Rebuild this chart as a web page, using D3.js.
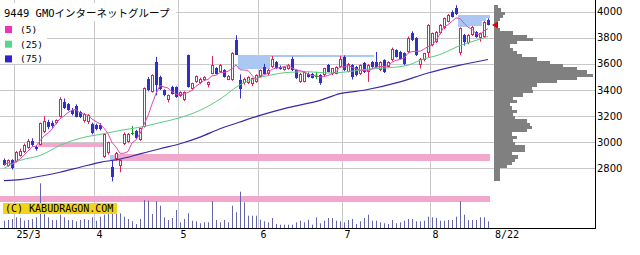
<!DOCTYPE html>
<html>
<head>
<meta charset="utf-8">
<script src="https://cdn.jsdelivr.net/npm/d3@7"></script>
<style>
body { margin: 0; background: #fff; }
</style>
</head>
<body>
<svg id="chart" width="640" height="255"></svg>
<script>
// ---- data ----
const title = '9449 GMOインターネットグループ';
const maLabels = ['(5)', '(25)', '(75)'];
const monthLabels = ['25/3', '4', '5', '6', '7', '8'];
const monthStart = [3, 23, 44, 64, 85, 107];   // index of first session in month
const lastLabel = '8/22';
const priceTicks = [2800, 3000, 3200, 3400, 3600, 3800, 4000];

const opens = [2866,2817,2860,2852,2898,2925,2955,3010,2965,2980, 3077,3155,3150,3145,3193,3310,3290,3250,3280,3230,
  3165,3158,3140,3135,3135,2890,2920,2810,2875,2815, 2985,3000,3070,3088,3018,3120,3488,3388,3612,3500,
  3398,3322,3422,3420,3354,3322,3665,3405,3462,3450, 3475,3440,3526,3565,3540,3552,3480,3475,3782,3480,
  3450,3450,3445,3460,3500,3577,3520,3577,3615,3580, 3552,3560,3640,3550,3462,3462,3525,3525,3505,3515,
  3513,3590,3520,3526,3577,3654,3540,3590,3577,3520, 3608,3538,3615,3615,3552,3628,3577,3628,3705,3692,
  3680,3692,3834,3795,3590,3628,3680,3744,3770,3834, 3872,3923,4000,4028,3680,3821,3757,3821,3846,3795,
  3808,3936];
const highs = [2875,2868,2870,2932,2950,2990,3025,3030,2972,3150, 3200,3172,3165,3175,3345,3335,3300,3262,3290,3240,
  3225,3215,3150,3142,3145,3070,3005,2860,2925,2865, 3075,3070,3125,3095,3112,3420,3500,3520,3654,3510,
  3405,3365,3432,3428,3390,3390,3672,3455,3510,3495, 3505,3465,3660,3575,3600,3560,3515,3690,3820,3520,
  3495,3505,3495,3520,3558,3600,3562,3660,3622,3588, 3582,3600,3655,3558,3530,3545,3535,3530,3540,3522,
  3570,3600,3570,3582,3660,3665,3608,3598,3585,3595, 3615,3600,3622,3692,3620,3635,3620,3725,3712,3700,
  3688,3810,3850,3805,3645,3685,3905,3840,3852,3905, 3955,3982,4010,4050,3880,3830,3828,3890,3852,3840,
  3928,3949];
const lows = [2820,2810,2790,2845,2890,2918,2950,2970,2935,2975, 3070,3100,3110,3138,3190,3255,3240,3205,3190,3185,
  3150,3140,3060,3090,3090,2880,2905,2700,2860,2770, 2978,2995,3055,3025,3010,3112,3390,3380,3359,3400,
  3352,3305,3365,3340,3348,3315,3418,3398,3455,3445, 3468,3420,3520,3520,3535,3495,3475,3470,3668,3335,
  3440,3445,3430,3455,3495,3520,3515,3570,3560,3555, 3548,3555,3545,3485,3455,3458,3495,3488,3485,3440,
  3505,3535,3515,3520,3570,3545,3535,3480,3505,3515, 3530,3462,3570,3570,3545,3530,3570,3620,3648,3635,
  3590,3685,3775,3660,3565,3620,3650,3735,3760,3828, 3865,3918,3955,3975,3667,3740,3750,3815,3800,3770,
  3800,3895];
const closes = [2828,2860,2805,2923,2936,2980,3010,2978,2945,3145, 3160,3118,3122,3168,3334,3262,3248,3215,3195,3195,
  3218,3210,3068,3100,3100,3060,2998,2735,2920,2860, 3065,3062,3070,3030,3108,3412,3398,3512,3436,3410,
  3360,3358,3372,3345,3383,3385,3423,3450,3505,3488, 3500,3460,3590,3526,3595,3500,3510,3685,3672,3410,
  3488,3500,3490,3515,3552,3525,3557,3641,3565,3560, 3577,3595,3552,3490,3525,3540,3500,3495,3505,3450,
  3565,3540,3565,3577,3641,3552,3603,3500,3513,3590, 3538,3590,3577,3577,3615,3538,3615,3718,3654,3641,
  3600,3795,3782,3667,3640,3680,3898,3834,3846,3898, 3949,3975,3962,3980,3872,3770,3821,3885,3808,3834,
  3923,3898];
const volumes = [73,80,90,107,100,73,80,90,107,447, 140,107,80,80,133,107,80,80,67,80,
  90,80,107,73,113,133,147,173,140,147, 113,90,67,40,90,280,273,140,267,223,
  107,80,100,180,57,90,147,73,67,47, 57,57,267,80,57,80,57,223,157,363,
  257,123,123,123,83,67,57,100,40,33, 33,33,33,57,73,57,83,33,107,47,
  73,100,100,73,67,57,80,90,40,67, 100,133,73,73,57,47,40,80,47,57,
  73,90,90,67,67,73,113,107,100,73, 73,80,80,113,267,133,80,80,80,107,
  107,67];

// moving averages (25 / 75) read at sample sessions
const ma25Idx = [0,4,9,14,19,24,29,34,39,44,49,54,59,62,66,71,76,81,86,91,96,101,104,109,114,119,121];
const ma25 = [2800,2860,2898,2975,3030,3060,3090,3115,3150,3188,3244,3330,3440,3480,3510,3535,3540,3530,3540,3560,3570,3590,3628,3672,3740,3790,3810];
const ma75Idx = [0,4,9,14,19,24,29,34,39,44,49,54,59,64,71,79,84,90,99,106,114,121];
const ma75 = [2705,2713,2739,2770,2808,2846,2870,2910,2950,2988,3039,3103,3155,3205,3265,3321,3372,3398,3462,3530,3590,3634];

// price-by-volume profile (25 yen buckets)
const profilePrice = [2700,2725,2750,2775,2800,2825,2850,2875,2900,2925,2950,2975,3000,3025,3050,3075,3100,3125,3150,3175,
  3200,3225,3250,3275,3300,3325,3350,3375,3400,3425,3450,3475,3500,3525,3550,3575,3600,3625,3650,3675,
  3700,3725,3750,3775,3800,3825,3850,3875,3900,3925,3950,3975,4000,4025];
const profileVol = [6,6,6,6,13,18,21,24,18,31,31,21,19,23,18,33,38,36,33,21,
  19,23,18,16,23,19,29,39,38,43,63,83,99,93,83,69,56,43,28,23,
  19,16,23,39,33,19,6,4,4,6,9,11,7,4];

// pink price zones
const bandFrom = [8.5, 27.5, -1];
const bandTo = [25.5, 121.5, 121.5];
const bandTop = [2997, 2912, 2590];
const bandBottom = [2962, 2857, 2538];

// light blue open windows
const gapFrom = [26.5, 58.5, 66.5, 113.5, 116.5, 119.5, 120.5];
const gapTo = [27.5, 66.5, 92.5, 116.5, 119.5, 120.5, 121.5];
const gapTop = [2905, 3672, 3672, 3975, 3975, 3975, 3975];
const gapBottom = [2860, 3564, 3650, 3880, 3892, 3928, 3950];

// ---- drawing ----
const svg = d3.select('#chart');
const W = 640, H = 255;
const right = 595, bottom = 228;
const red = '#e0205a', blue = '#3030c8', green = '#109a10';

const x = d3.scaleLinear().domain([0, 121]).range([4, 488]);
const y = d3.scaleLinear().domain([2800, 4000]).range([168.3, 11.7]);
const yVol = d3.scaleLinear().domain([0, 100]).range([bottom, bottom - 10]);
const wProf = d3.scaleLinear().domain([0, 100]).range([0, 100]);
const cx = i => Math.round(x(i));

svg.append('rect').attr('width', W).attr('height', H).attr('fill', '#fff');

// grid
svg.append('g').selectAll('line').data(priceTicks).join('line')
  .attr('x1', 0).attr('x2', right)
  .attr('y1', d => Math.round(y(d)) + 0.5).attr('y2', d => Math.round(y(d)) + 0.5)
  .attr('stroke', '#c8c8c8');
svg.append('g').selectAll('line').data(monthStart).join('line')
  .attr('x1', d => cx(d) - 1.5).attr('x2', d => cx(d) - 1.5)
  .attr('y1', 0).attr('y2', bottom)
  .attr('stroke', '#c8c8c8');

// zones
svg.append('g').attr('shape-rendering', 'crispEdges')
  .selectAll('rect').data(bandFrom).join('rect')
  .attr('x', (d) => x(d)).attr('width', (d, i) => x(bandTo[i]) - x(d))
  .attr('y', (d, i) => y(bandTop[i])).attr('height', (d, i) => y(bandBottom[i]) - y(bandTop[i]))
  .attr('fill', '#f2a8cc');
svg.append('g').attr('shape-rendering', 'crispEdges')
  .selectAll('rect').data(gapFrom).join('rect')
  .attr('x', d => x(d)).attr('width', (d, i) => x(gapTo[i]) - x(d))
  .attr('y', (d, i) => y(gapTop[i])).attr('height', (d, i) => y(gapBottom[i]) - y(gapTop[i]))
  .attr('fill', '#abc8f2');

// volume
svg.append('g').selectAll('line').data(volumes).join('line')
  .attr('x1', (d, i) => cx(i) + 0.5).attr('x2', (d, i) => cx(i) + 0.5)
  .attr('y1', bottom).attr('y2', d => yVol(d))
  .attr('stroke', '#6464a8');

// candles
const candles = svg.append('g');
opens.forEach((o, i) => {
  const c = closes[i];
  const col = c > o ? red : (c < o ? blue : green);
  const px = cx(i);
  candles.append('line')
    .attr('x1', px + 0.5).attr('x2', px + 0.5)
    .attr('y1', y(highs[i])).attr('y2', y(lows[i]))
    .attr('stroke', col);
  const top = Math.round(y(Math.max(o, c)));
  const bot = Math.round(y(Math.min(o, c)));
  if (c > o) {
    candles.append('rect')
      .attr('x', px - 0.5).attr('width', 2)
      .attr('y', top + 0.5).attr('height', Math.max(1, bot - top - 1))
      .attr('fill', '#fff').attr('stroke', col);
  } else if (c < o) {
    candles.append('rect')
      .attr('x', px - 1).attr('width', 3)
      .attr('y', top).attr('height', Math.max(1, bot - top))
      .attr('fill', col);
  } else {
    candles.append('rect')
      .attr('x', px - 1).attr('width', 3)
      .attr('y', top).attr('height', 1)
      .attr('fill', col);
  }
});

// moving averages
const ma5 = closes.map((c, i) => d3.mean(closes.slice(Math.max(0, i - 4), i + 1)));
const line = d3.line().x(d => x(d[0])).y(d => y(d[1]));
svg.append('path').datum(ma75Idx.map((d, i) => [d, ma75[i]]))
  .attr('d', line.curve(d3.curveMonotoneX)).attr('fill', 'none').attr('stroke', '#3a2aa8').attr('stroke-width', 1.2);
svg.append('path').datum(ma25Idx.map((d, i) => [d, ma25[i]]))
  .attr('d', line.curve(d3.curveMonotoneX)).attr('fill', 'none').attr('stroke', '#5ccc80');
svg.append('path').datum(ma5.map((d, i) => [i, d]))
  .attr('d', line.curve(d3.curveLinear)).attr('fill', 'none').attr('stroke', '#e048b4');

// price-by-volume profile
svg.append('g').attr('shape-rendering', 'crispEdges')
  .selectAll('rect').data(profilePrice).join('rect')
  .attr('x', 494).attr('width', (d, i) => Math.round(wProf(profileVol[i])))
  .attr('y', d => Math.round(y(d + 25)))
  .attr('height', d => Math.round(y(d)) - Math.round(y(d + 25)))
  .attr('fill', '#808080');

// last price marker
const ly = y(closes[closes.length - 1]);
svg.append('path')
  .attr('d', `M492,${ly} L498,${ly - 3.5} L498,${ly + 3.5} Z`)
  .attr('fill', '#e00000');

// frame
svg.append('line').attr('x1', right + 0.5).attr('x2', right + 0.5).attr('y1', 0).attr('y2', bottom + 1)
  .attr('stroke', '#000');
svg.append('line').attr('x1', 0).attr('x2', right + 1).attr('y1', bottom + 0.5).attr('y2', bottom + 0.5)
  .attr('stroke', '#000');

// axis labels
svg.append('g').selectAll('text').data(priceTicks).join('text')
  .attr('x', 597).attr('y', d => y(d) + 3.5)
  .attr('font-family', 'DejaVu Sans').attr('font-size', 10).attr('fill', '#000')
  .text(d => d);
svg.append('g').selectAll('text').data(monthStart).join('text')
  .attr('x', d => cx(d) + 0.5).attr('y', 238)
  .attr('font-family', 'DejaVu Sans Mono').attr('font-size', 10).attr('fill', '#000')
  .text((d, i) => monthLabels[i]);
svg.append('text').attr('x', 495).attr('y', 238)
  .attr('font-family', 'DejaVu Sans Mono').attr('font-size', 10).attr('fill', '#000')
  .text(lastLabel);

// legend
svg.append('rect').attr('x', 0).attr('y', 3).attr('width', 176).attr('height', 18).attr('fill', '#fff');
svg.append('rect').attr('x', 0).attr('y', 21).attr('width', 47).attr('height', 43).attr('fill', '#fff');
svg.append('text').attr('x', 4).attr('y', 17)
  .attr('font-family', 'DejaVu Sans Mono, Noto Sans CJK JP').attr('font-size', 10.5).attr('fill', '#000')
  .text(title);
const legendColors = ['#ee33bb', '#55d888', '#3322cc'];
maLabels.forEach((t, i) => {
  svg.append('rect').attr('x', 5).attr('y', 26 + i * 14.7).attr('width', 7).attr('height', 7).attr('fill', legendColors[i]);
  svg.append('text').attr('x', 20).attr('y', 33 + i * 14.7)
    .attr('font-family', 'DejaVu Sans Mono').attr('font-size', 9.5).attr('fill', '#000')
    .text(t);
});

// copyright
svg.append('rect').attr('x', 3).attr('y', 203).attr('width', 114).attr('height', 11).attr('fill', '#f2d21a');
svg.append('text').attr('x', 5).attr('y', 212)
  .attr('font-family', 'DejaVu Sans Mono').attr('font-size', 10).attr('fill', '#000')
  .text('(C) KABUDRAGON.COM');
</script>
</body>
</html>
